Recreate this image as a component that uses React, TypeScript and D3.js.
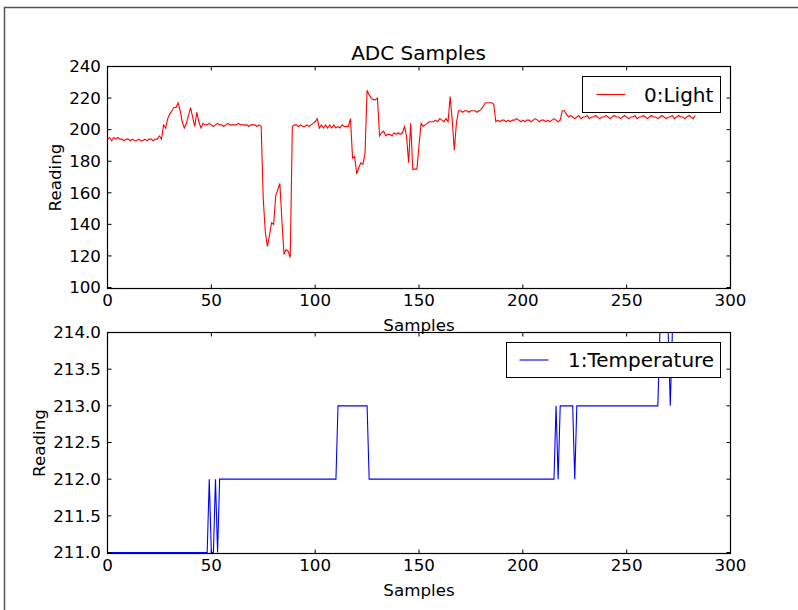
import React from "react";
import * as d3 from "d3";

const lightValues: number[] = [
  194,195,193,195,194,195,194,194,193,194,194,193,194,193,193,194,193,193,194,193,194,194,193,194,194,
  196,194,203,201,207,210,212,214,214,217,212,205,201,204,209,214,208,202,211,205,201,204,203,
  203,204,203,202,203,204,203,203,202,203,204,203,203,203,203,204,203,203,203,203,202,203,203,203,202,203,
  202,156,135,126,133,141,140,158,162,166,142,121,124,123,119,
  202,203,203,202,203,202,202,203,202,203,204,205,207,201,203,201,203,201,203,201,203,201,202,201,203,202,202,202,
  207,182,183,172,176,179,178,185,225,222,220,219,219,220,
  196,198,199,196,197,197,196,198,197,198,197,198,202,196,179,204,175,175,175,190,204,202,203,204,205,205,205,206,205,207,206,205,207,205,
  221,206,187,204,212,212,211,212,212,211,212,212,212,211,212,213,215,217,217,217,217,216,205,206,
  205,206,206,205,206,205,206,206,207,206,205,206,205,206,206,205,206,207,206,205,206,206,205,206,205,206,207,206,205,206,
  212,212,210,208,
  209,208,207,208,209,207,208,208,209,207,208,208,209,208,207,208,208,209,208,207,208,209,208,208,207,208,209,208,207,208,208,209,
  207,208,208,209,208,207,208,209,208,208,207,208,209,208,207,208,208,209,207,208,209,208,208,207,208,209,208,207,209
];

const tempValues: number[] = [
  ...Array(49).fill(211),
  212,211,211,212,211,
  ...Array(57).fill(212),
  ...Array(15).fill(213),
  ...Array(90).fill(212),
  213,212,
  ...Array(7).fill(213),
  212,
  ...Array(40).fill(213),
  ...Array(5).fill(214),
  213,
  ...Array(12).fill(214)
];

const xTicks = [0, 50, 100, 150, 200, 250, 300];
const lightTicks = [100, 120, 140, 160, 180, 200, 220, 240];
const tempTicks = [211.0, 211.5, 212.0, 212.5, 213.0, 213.5, 214.0];

const title = "ADC Samples";
const xLabel = "Samples";
const yLabel = "Reading";
const lightName = "0:Light";
const tempName = "1:Temperature";

const FONT = "DejaVu Sans, sans-serif";

type PanelProps = {
  id: string;
  values: number[];
  color: string;
  yDomain: [number, number];
  yTicks: number[];
  yFmt: (v: number) => string;
  top: number;
  bottom: number;
  yLabelX: number;
  legend: { name: string; x0: number; x1: number; y0: number; y1: number; lx0: number; lx1: number; tx: number };
};

function Panel(p: PanelProps) {
  const left = 107.5;
  const right = 730.5;
  const x = d3.scaleLinear().domain([0, 300]).range([left, right]);
  const y = d3.scaleLinear().domain(p.yDomain).range([p.bottom - 1, p.top]);
  const line = d3.line<number>().x((_, i) => x(i)).y((d) => y(d));
  const tl = 4;
  const ly = (p.legend.y0 + p.legend.y1) / 2;
  return (
    <g>
      <defs>
        <clipPath id={p.id}>
          <rect x={left} y={p.top} width={right - left} height={p.bottom - p.top} />
        </clipPath>
      </defs>
      <rect x={left} y={p.top} width={right - left} height={p.bottom - p.top} fill="none" stroke="#000" strokeWidth={1.2} />
      <path d={line(p.values) || ""} fill="none" stroke={p.color} strokeWidth={1.1} clipPath={`url(#${p.id})`} />
      <line x1={left} x2={right} y1={p.top} y2={p.top} stroke="#000" strokeWidth={1.2} />
      {xTicks.map((t) => (
        <g key={"x" + t}>
          <line x1={x(t)} x2={x(t)} y1={p.bottom} y2={p.bottom - tl} stroke="#000" />
          <line x1={x(t)} x2={x(t)} y1={p.top} y2={p.top + tl} stroke="#000" />
          <text x={x(t)} y={p.bottom + 17} textAnchor="middle" fontSize={16.7} fontFamily={FONT} fill="#000">{t}</text>
        </g>
      ))}
      {p.yTicks.map((t) => (
        <g key={"y" + t}>
          <line x1={left} x2={left + tl} y1={y(t)} y2={y(t)} stroke="#000" />
          <line x1={right} x2={right - tl} y1={y(t)} y2={y(t)} stroke="#000" />
          <text x={101} y={y(t)} dy="0.35em" textAnchor="end" fontSize={16.7} fontFamily={FONT} fill="#000">{p.yFmt(t)}</text>
        </g>
      ))}
      <text x={(left + right) / 2} y={p.bottom + 42} textAnchor="middle" fontSize={16.7} fontFamily={FONT} fill="#000">{xLabel}</text>
      <text transform={`translate(${p.yLabelX},${(p.top + p.bottom) / 2}) rotate(-90)`} textAnchor="middle" fontSize={16.7} fontFamily={FONT} fill="#000">{yLabel}</text>
      <rect x={p.legend.x0} y={p.legend.y0} width={p.legend.x1 - p.legend.x0} height={p.legend.y1 - p.legend.y0} fill="#fff" stroke="#000" strokeWidth={1} />
      <line x1={p.legend.lx0} x2={p.legend.lx1} y1={ly} y2={ly} stroke={p.color} strokeWidth={1.1} />
      <text x={p.legend.tx} y={ly} dy="0.35em" fontSize={20} fontFamily={FONT} fill="#000">{p.legend.name}</text>
    </g>
  );
}

export default function App() {
  return (
    <svg width={798} height={610} style={{ position: "absolute", left: 0, top: 0, background: "#fff" }}>
      <rect x={0} y={0} width={798} height={610} fill="#fff" />
      <line x1={4} x2={798} y1={7.5} y2={7.5} stroke="#555" strokeWidth={1.5} />
      <line x1={4.5} x2={4.5} y1={7} y2={610} stroke="#555" strokeWidth={1.5} />
      <text x={418.6} y={60} textAnchor="middle" fontSize={20} fontFamily={FONT} fill="#000">{title}</text>
      <Panel
        id="clipTop"
        values={lightValues}
        color="#ff0000"
        yDomain={[100, 240]}
        yTicks={lightTicks}
        yFmt={(v) => String(v)}
        top={66.5}
        bottom={288.5}
        yLabelX={61}
        legend={{ name: lightName, x0: 582.5, x1: 720.5, y0: 76.5, y1: 112.5, lx0: 596.5, lx1: 625, tx: 644 }}
      />
      <Panel
        id="clipBot"
        values={tempValues}
        color="#0000ff"
        yDomain={[211, 214]}
        yTicks={tempTicks}
        yFmt={(v) => v.toFixed(1)}
        top={332.5}
        bottom={553.5}
        yLabelX={45}
        legend={{ name: tempName, x0: 506.5, x1: 720.5, y0: 342.5, y1: 377.5, lx0: 519.5, lx1: 548.5, tx: 568 }}
      />
    </svg>
  );
}
